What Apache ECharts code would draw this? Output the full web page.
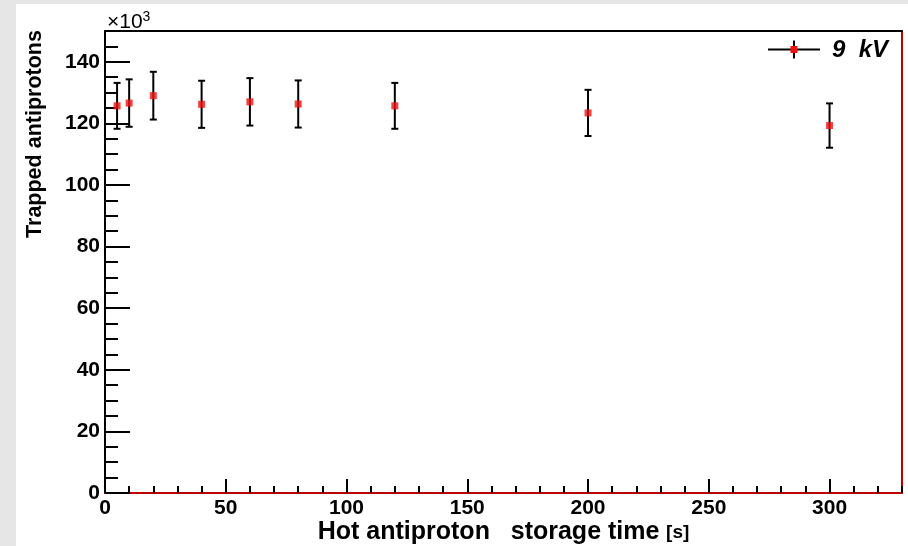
<!DOCTYPE html>
<html>
<head>
<meta charset="utf-8">
<script src="https://cdn.jsdelivr.net/npm/echarts@6/dist/echarts.min.js"></script>
<style>
html,body{margin:0;padding:0;background:#e6e6e6;}
#c{width:908px;height:546px;}
</style>
</head>
<body>
<div id="c"></div>
<script>
// Data (counts in units of 10^3)
var times = [5, 10, 20, 40, 60, 80, 120, 200, 300];
var counts = [125.7, 126.6, 129.0, 126.2, 127.0, 126.3, 125.7, 123.4, 119.3];
var errors = [7.45, 7.7, 7.75, 7.65, 7.7, 7.65, 7.45, 7.5, 7.2];
var xTicks = [0, 50, 100, 150, 200, 250, 300];
var yTicks = [0, 20, 40, 60, 80, 100, 120, 140];
var seriesName = '9  kV';

var FONT = 'Liberation Sans, Arial, Helvetica, sans-serif';
var chart = echarts.init(document.getElementById('c'), null, {renderer: 'canvas'});

var pts = times.map(function (t, i) { return [t, counts[i], errors[i]]; });

var XMIN = 0, XMAX = 330, YMIN = 0, YMAX = 150;

var option = {
  backgroundColor: 'transparent',
  animation: false,
  grid: {left: 105, right: 6, top: 31, bottom: 53, containLabel: false, outerBoundsMode: 'none'},
  graphic: [
    {type: 'rect', z: -10, silent: true, shape: {x: 16, y: 4, width: 892, height: 542}, style: {fill: '#ffffff'}},
    {type: 'text', rotation: Math.PI / 2, x: 35, y: 134, style: {
      text: 'Trapped antiprotons', font: 'bold 21.5px ' + FONT, fill: '#000', align: 'center', verticalAlign: 'middle'}},
    {type: 'group', right: 20, top: 38, children: [
      {type: 'line', shape: {x1: 0, y1: 13, x2: 52, y2: 13}, style: {stroke: '#000', lineWidth: 2}},
      {type: 'line', shape: {x1: 26, y1: 4, x2: 26, y2: 22}, style: {stroke: '#000', lineWidth: 2}},
      {type: 'rect', shape: {x: 22.5, y: 9.5, width: 7, height: 7}, style: {fill: '#ee1111'}},
      {type: 'text', x: 64, y: 14, style: {text: seriesName, font: 'italic bold 24px ' + FONT, fill: '#000', verticalAlign: 'middle'}}
    ]}
  ],
  xAxis: [
    {type: 'value', min: XMIN, max: XMAX, interval: 50, position: 'bottom',
      axisLine: {show: true, onZero: false, lineStyle: {color: '#c00000', width: 2}},
      axisTick: {show: true, inside: true, length: 14, customValues: xTicks, lineStyle: {color: '#000', width: 2}},
      axisLabel: {show: true, customValues: xTicks, margin: 5, color: '#000', fontSize: 21, fontWeight: 'bold', fontFamily: FONT},
      splitLine: {show: false},
      name: '{a|Hot antiproton   storage time}  {b|[s]}', nameLocation: 'middle', nameGap: 27, nameMoveOverlap: false,
      nameTextStyle: {rich: {
        a: {fontSize: 25, fontWeight: 'bold', fontFamily: FONT, color: '#000'},
        b: {fontSize: 19, fontWeight: 'bold', fontFamily: FONT, color: '#000'}
      }}
    },
    {type: 'value', min: XMIN, max: XMAX, interval: 10, position: 'bottom', offset: 0,
      axisLine: {show: false}, axisLabel: {show: false}, splitLine: {show: false},
      axisTick: {show: true, inside: true, length: 7, lineStyle: {color: '#000', width: 2}}
    },
    {type: 'value', min: XMIN, max: XMAX, position: 'top',
      axisLine: {show: true, onZero: false, lineStyle: {color: '#000', width: 2}},
      axisTick: {show: false}, axisLabel: {show: false}, splitLine: {show: false}
    }
  ],
  yAxis: [
    {type: 'value', min: YMIN, max: YMAX, interval: 20, position: 'left',
      axisLine: {show: true, onZero: false, lineStyle: {color: '#000', width: 2}},
      axisTick: {show: true, inside: true, length: 25, customValues: yTicks, lineStyle: {color: '#000', width: 2}},
      axisLabel: {show: true, customValues: yTicks, margin: 5, color: '#000', fontSize: 21, fontWeight: 'bold', fontFamily: FONT},
      splitLine: {show: false},
      name: '×10{s|3}', nameLocation: 'end', nameGap: 0,
      nameTextStyle: {align: 'left', verticalAlign: 'bottom', fontSize: 21, fontFamily: FONT, color: '#000', padding: [0, 0, -3, 2],
        rich: {s: {fontSize: 14, fontFamily: FONT, color: '#000', verticalAlign: 'top', padding: [0, 0, 10, 0]}}}
    },
    {type: 'value', min: YMIN, max: YMAX, interval: 5, position: 'left', offset: 0,
      axisLine: {show: false}, axisLabel: {show: false}, splitLine: {show: false},
      axisTick: {show: true, inside: true, length: 13, lineStyle: {color: '#000', width: 2}}
    },
    {type: 'value', min: YMIN, max: YMAX, position: 'right', offset: 0,
      axisLine: {show: true, onZero: false, lineStyle: {color: '#c00000', width: 2}},
      axisTick: {show: false}, axisLabel: {show: false}, splitLine: {show: false}
    }
  ],
  series: [
    {type: 'custom', name: 'err', xAxisIndex: 0, yAxisIndex: 0, data: pts, z: 2,
      renderItem: function (params, api) {
        var x = api.value(0), y = api.value(1), e = api.value(2);
        var top = api.coord([x, y + e]);
        var bot = api.coord([x, y - e]);
        var cw = 3.5;
        var st = {stroke: '#000', lineWidth: 2};
        return {type: 'group', children: [
          {type: 'line', shape: {x1: top[0], y1: top[1], x2: bot[0], y2: bot[1]}, style: st},
          {type: 'line', shape: {x1: top[0] - cw, y1: top[1], x2: top[0] + cw, y2: top[1]}, style: st},
          {type: 'line', shape: {x1: bot[0] - cw, y1: bot[1], x2: bot[0] + cw, y2: bot[1]}, style: st}
        ]};
      }
    },
    {type: 'scatter', name: seriesName, xAxisIndex: 0, yAxisIndex: 0, data: pts, z: 3,
      symbol: 'rect', symbolSize: 7, itemStyle: {color: '#ee1111'}}
  ]
};
chart.setOption(option);
</script>
</body>
</html>
